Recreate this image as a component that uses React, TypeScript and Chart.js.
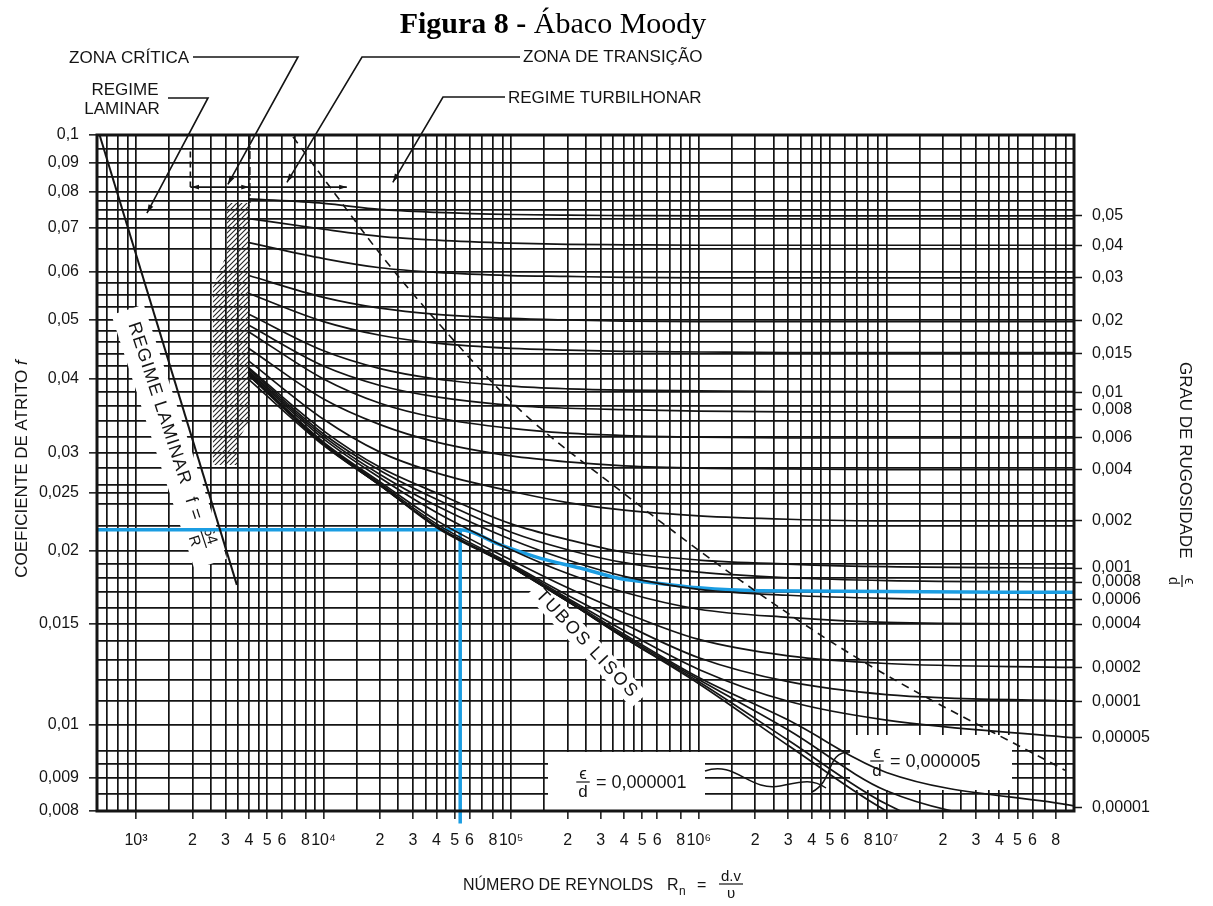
import React, { useEffect, useRef } from 'react';
import { Chart, registerables, LogarithmicScale } from 'chart.js';

// ---------------- data ----------------
const RE = [4e3, 1e4, 2e4, 4e4, 1e5, 2e5, 4e5, 1e6, 3e6, 1e7, 1e8];
const RE_HIGH = [1e5, 2e5, 4e5, 1e6, 3e6, 1e7, 1e8];

const F_0_05 = [0.078, 0.0767, 0.075, 0.0742, 0.0736, 0.0734, 0.0733, 0.0732, 0.0732, 0.0732, 0.0732];
const F_0_04 = [0.0725, 0.0697, 0.068, 0.0671, 0.0664, 0.0661, 0.066, 0.0659, 0.0659, 0.0659, 0.0659];
const F_0_03 = [0.0665, 0.0629, 0.0609, 0.0599, 0.0592, 0.059, 0.0588, 0.0587, 0.0587, 0.0587, 0.0587];
const F_0_02 = [0.0592, 0.0545, 0.0523, 0.0511, 0.0503, 0.05, 0.0498, 0.0497, 0.0497, 0.0497, 0.0497];
const F_0_015 = [0.0553, 0.0497, 0.0472, 0.0458, 0.0449, 0.0446, 0.0444, 0.0443, 0.0442, 0.0442, 0.0442];
const F_0_01 = [0.0511, 0.0445, 0.0416, 0.04, 0.0389, 0.0385, 0.0383, 0.0382, 0.0381, 0.0381, 0.0381];
const F_0_008 = [0.049, 0.042, 0.039, 0.0373, 0.0361, 0.0357, 0.0355, 0.0353, 0.0352, 0.0352, 0.0352];
const F_0_006 = [0.0478, 0.04, 0.0364, 0.0344, 0.033, 0.0324, 0.0321, 0.0319, 0.0318, 0.0318, 0.0318];
const F_0_004 = [0.0449, 0.037, 0.0335, 0.0313, 0.0296, 0.0288, 0.0283, 0.028, 0.0279, 0.0278, 0.0278];
const F_0_002 = [0.0428, 0.0342, 0.0301, 0.0274, 0.0252, 0.0241, 0.0234, 0.0229, 0.0226, 0.02245, 0.02245];
const F_0_001 = [0.0417, 0.0327, 0.0281, 0.025, 0.0222, 0.0209, 0.0199, 0.0193, 0.019, 0.0188, 0.0187];
const F_0_0008 = [0.0415, 0.0323, 0.0277, 0.0244, 0.0215, 0.0201, 0.0191, 0.0184, 0.018, 0.0178, 0.0177];
const F_0_0006 = [0.0412, 0.032, 0.0272, 0.0238, 0.0209, 0.0193, 0.0181, 0.0172, 0.0168, 0.0166, 0.0165];
const F_0_0004 = [0.041, 0.0317, 0.0268, 0.0232, 0.0201, 0.0183, 0.017, 0.0159, 0.0154, 0.0151, 0.015];
const F_0_0002 = [0.0408, 0.0313, 0.0263, 0.0225, 0.0193, 0.0173, 0.0157, 0.0141, 0.0132, 0.0128, 0.0126];
const F_0_0001 = [0.0407, 0.0312, 0.0261, 0.0222, 0.019, 0.0168, 0.015, 0.0131, 0.0119, 0.0113, 0.011];
const F_0_00005 = [0.0406, 0.0311, 0.0259, 0.022, 0.0189, 0.0166, 0.0146, 0.0125, 0.011, 0.0102, 0.00975];
const F_0_00001 = [0.0405, 0.031, 0.0259, 0.022, 0.0188, 0.0165, 0.0144, 0.0121, 0.0102, 0.0091, 0.00815];
const F_0_000005 = [0.0188, 0.0164, 0.0143, 0.012, 0.0099, 0.0086, 0.0074];
const F_0_000001 = [0.0188, 0.0164, 0.0142, 0.0119, 0.0097, 0.0082, 0.0064];
const F_SMOOTH = [0.0399, 0.0309, 0.0259, 0.0219, 0.0188, 0.0164, 0.0142, 0.0118, 0.0096, 0.008, 0.0059];

const LAMINAR_RE = [640, 3450];
const LAMINAR_F = [0.1, 0.0175];

const TURB_LIMIT_RE = [6870, 10800, 20700, 41700, 111000, 380000, 1.66e6, 7.23e6, 8.95e7];
const TURB_LIMIT_F = [0.0993, 0.0817, 0.0632, 0.0491, 0.0355, 0.0253, 0.01783, 0.013, 0.00914];

const BLUE_RE = [620, 5.35e4, 8.7e4, 1.42e5, 2.33e5, 3.8e5, 6.2e5, 1e6, 2.1e6, 1e8];
const BLUE_F = [0.0217, 0.0217, 0.0205, 0.01945, 0.0187, 0.01795, 0.0176, 0.0173, 0.0171, 0.017];
const BLUE_V_RE = [5.35e4, 5.35e4];
const BLUE_V_F = [0.0217, 0.00765];

const CRIT_LEFT_RE = [1950, 1950];
const CRIT_LEFT_F = [0.094, 0.0816];
const CRIT_RIGHT_RE = [4050, 4050];
const CRIT_RIGHT_F = [0.1, 0.0768];
const ZONE_H_RE = [1950, 13300];
const ZONE_H_F = [0.0816, 0.0816];

const CRIT_ZONE_RE = [3055, 4053, 4053, 3498, 3498, 2573, 2573, 3055];
const CRIT_ZONE_F = [0.0768, 0.0768, 0.0341, 0.0315, 0.0284, 0.0284, 0.0567, 0.0641];

// axes
const X_MIN = 620;
const X_MAX = 1e8;
const Y_MIN = 0.008;
const Y_MAX = 0.1;
const X_GRID_MULT = [1, 1.5, 2, 2.5, 3, 3.5, 4, 4.5, 5, 6, 7, 8, 9];
const X_GRID_DECADES = [1e3, 1e4, 1e5, 1e6, 1e7];
const X_GRID_EXTRA = [700, 800, 900, 1e8];
const X_TICK_VALUES = [1e3, 2e3, 3e3, 4e3, 5e3, 6e3, 8e3, 1e4, 2e4, 3e4, 4e4, 5e4, 6e4, 8e4, 1e5, 2e5, 3e5, 4e5, 5e5, 6e5, 8e5, 1e6, 2e6, 3e6, 4e6, 5e6, 6e6, 8e6, 1e7, 2e7, 3e7, 4e7, 5e7, 6e7, 8e7];
const X_TICK_TEXT = ['10³', '2', '3', '4', '5', '6', '8', '10⁴', '2', '3', '4', '5', '6', '8', '10⁵', '2', '3', '4', '5', '6', '8', '10⁶', '2', '3', '4', '5', '6', '8', '10⁷', '2', '3', '4', '5', '6', '8'];

const Y_GRID = [0.1, 0.095, 0.09, 0.085, 0.08, 0.0775, 0.075, 0.0725, 0.07, 0.065, 0.06, 0.0575, 0.055, 0.0525, 0.05, 0.048, 0.046, 0.044, 0.042, 0.04, 0.038, 0.036, 0.034, 0.032, 0.03, 0.028, 0.026, 0.025, 0.024, 0.022, 0.02, 0.019, 0.018, 0.017, 0.016, 0.015, 0.014, 0.013, 0.012, 0.011, 0.01, 0.0095, 0.00925, 0.009, 0.0085, 0.008];
const Y_TICK_VALUES = [0.1, 0.09, 0.08, 0.07, 0.06, 0.05, 0.04, 0.03, 0.025, 0.02, 0.015, 0.01, 0.009, 0.008];
const Y_TICK_TEXT = ['0,1', '0,09', '0,08', '0,07', '0,06', '0,05', '0,04', '0,03', '0,025', '0,02', '0,015', '0,01', '0,009', '0,008'];
// printed axis calibration of the scanned chart: value -> fraction of plot height from bottom
const Y_CAL_VALUES = [0.008, 0.009, 0.01, 0.015, 0.02, 0.025, 0.03, 0.04, 0.05, 0.06, 0.07, 0.08, 0.09, 0.1];
const Y_CAL_FRACTION = [0, 0.0488, 0.1272, 0.2766, 0.3846, 0.4704, 0.5296, 0.6391, 0.7263, 0.7973, 0.8624, 0.9157, 0.9586, 1];

const ROUGH_TICK_F = [0.0732, 0.0659, 0.0587, 0.0499, 0.0441, 0.038, 0.0355, 0.0318, 0.0278, 0.02245, 0.0187, 0.0177, 0.0165, 0.015, 0.0126, 0.01097, 0.00975, 0.00809];
const ROUGH_TICK_TEXT = ['0,05', '0,04', '0,03', '0,02', '0,015', '0,01', '0,008', '0,006', '0,004', '0,002', '0,001', '0,0008', '0,0006', '0,0004', '0,0002', '0,0001', '0,00005', '0,00001'];

const CURVES = [
  { re: RE, f: F_0_05 }, { re: RE, f: F_0_04 }, { re: RE, f: F_0_03 }, { re: RE, f: F_0_02 },
  { re: RE, f: F_0_015 }, { re: RE, f: F_0_01 }, { re: RE, f: F_0_008 }, { re: RE, f: F_0_006 },
  { re: RE, f: F_0_004 }, { re: RE, f: F_0_002 }, { re: RE, f: F_0_001 }, { re: RE, f: F_0_0008 },
  { re: RE, f: F_0_0006 }, { re: RE, f: F_0_0004 }, { re: RE, f: F_0_0002 }, { re: RE, f: F_0_0001 },
  { re: RE, f: F_0_00005 }, { re: RE, f: F_0_00001 }, { re: RE_HIGH, f: F_0_000005 },
  { re: RE_HIGH, f: F_0_000001 }, { re: RE, f: F_SMOOTH },
];

// ---------------- styling ----------------
const INK = '#141414';
const BLUE = '#1b9de2';
const SANS = "'Liberation Sans', Arial, Helvetica, sans-serif";
const SERIF = "'Liberation Serif', 'Times New Roman', serif";

// ---------------- custom scale with the printed calibration ----------------
const LOG_CAL = Y_CAL_VALUES.map((v) => Math.log10(v));
function warp(v: number) {
  const lv = Math.log10(Math.max(v, 1e-12));
  const n = LOG_CAL.length;
  let i = 0;
  while (i < n - 2 && lv > LOG_CAL[i + 1]) i++;
  const t = (lv - LOG_CAL[i]) / (LOG_CAL[i + 1] - LOG_CAL[i]);
  return Y_CAL_FRACTION[i] + t * (Y_CAL_FRACTION[i + 1] - Y_CAL_FRACTION[i]);
}
function unwarp(d: number) {
  const n = Y_CAL_FRACTION.length;
  let i = 0;
  while (i < n - 2 && d > Y_CAL_FRACTION[i + 1]) i++;
  const t = (d - Y_CAL_FRACTION[i]) / (Y_CAL_FRACTION[i + 1] - Y_CAL_FRACTION[i]);
  return Math.pow(10, LOG_CAL[i] + t * (LOG_CAL[i + 1] - LOG_CAL[i]));
}

class WarpLogScale extends LogarithmicScale {
  static id = 'warpLog';
  getPixelForValue(value: number) {
    if (value === undefined || value === null || isNaN(value)) return NaN;
    return this.getPixelForDecimal(warp(value));
  }
  getValueForPixel(pixel: number) {
    return unwarp(this.getDecimalForPixel(pixel));
  }
}

Chart.register(...registerables, WarpLogScale);

const same = (a: number, b: number) => Math.abs(a - b) / Math.abs(b) < 1e-6;
const X_GRID: number[] = [];
X_GRID_DECADES.forEach((d) => X_GRID_MULT.forEach((m) => X_GRID.push(m * d)));
X_GRID.push(...X_GRID_EXTRA);

// ---------------- drawing helpers ----------------
function arrowHead(ctx: CanvasRenderingContext2D, x1: number, y1: number, x2: number, y2: number, size = 9) {
  const a = Math.atan2(y2 - y1, x2 - x1);
  ctx.beginPath();
  ctx.moveTo(x2, y2);
  ctx.lineTo(x2 - size * Math.cos(a - 0.3), y2 - size * Math.sin(a - 0.3));
  ctx.lineTo(x2 - size * Math.cos(a + 0.3), y2 - size * Math.sin(a + 0.3));
  ctx.closePath();
  ctx.fill();
}

function fraction(ctx: CanvasRenderingContext2D, num: string, den: string, cx: number, barY: number, size: number) {
  ctx.save();
  ctx.font = `${size}px ${SANS}`;
  ctx.textAlign = 'center';
  const w = Math.max(ctx.measureText(num).width, ctx.measureText(den).width) + 4;
  ctx.textBaseline = 'alphabetic';
  ctx.fillText(num, cx, barY - 3);
  ctx.textBaseline = 'top';
  ctx.fillText(den, cx, barY + 2);
  ctx.lineWidth = 1.2;
  ctx.beginPath();
  ctx.moveTo(cx - w / 2, barY);
  ctx.lineTo(cx + w / 2, barY);
  ctx.stroke();
  ctx.restore();
  return w;
}

const LEADERS = [
  { path: [[193, 57], [298, 57]], re: 3090, f: 0.0825 },
  { path: [[168, 98], [208, 98]], re: 1144, f: 0.074 },
  { path: [[520, 57], [362, 57]], re: 6380, f: 0.0832 },
  { path: [[505, 97], [443, 97]], re: 23400, f: 0.0832 },
];

const decor = {
  id: 'decor',
  beforeDatasetsDraw(chart: any) {
    const { ctx } = chart;
    const X = (v: number) => chart.scales.x.getPixelForValue(v);
    const Y = (v: number) => chart.scales.y.getPixelForValue(v);
    // hatched critical zone
    ctx.save();
    ctx.beginPath();
    CRIT_ZONE_RE.forEach((r, i) => {
      const px = X(r), py = Y(CRIT_ZONE_F[i]);
      if (i) ctx.lineTo(px, py); else ctx.moveTo(px, py);
    });
    ctx.closePath();
    ctx.clip();
    ctx.strokeStyle = '#222';
    ctx.lineWidth = 1.1;
    for (let k = -300; k < 300; k += 5) {
      ctx.beginPath();
      ctx.moveTo(230 + k, 480);
      ctx.lineTo(230 + k + 300, 180);
      ctx.stroke();
    }
    ctx.restore();

    // REGIME LAMINAR label (white band left of the laminar line)
    ctx.save();
    ctx.translate(172, 436);
    ctx.rotate((71.9 * Math.PI) / 180);
    ctx.font = `18px ${SANS}`;
    (ctx as any).letterSpacing = '1px';
    const t1 = 'REGIME LAMINAR';
    const t2 = 'f =';
    const w1 = ctx.measureText(t1).width;
    const w2 = ctx.measureText(t2).width;
    const total = w1 + 14 + w2 + 8 + 24;
    ctx.fillStyle = '#fff';
    ctx.fillRect(-total / 2 - 14, -14, total + 28, 34);
    ctx.fillStyle = INK;
    ctx.strokeStyle = INK;
    ctx.textBaseline = 'middle';
    ctx.textAlign = 'left';
    let x0 = -total / 2;
    ctx.fillText(t1, x0, 2);
    x0 += w1 + 14;
    ctx.fillText(t2, x0, 2);
    x0 += w2 + 8;
    (ctx as any).letterSpacing = '0px';
    fraction(ctx, '64', 'R', x0 + 11, 2, 15);
    ctx.restore();

    // TUBOS LISOS
    ctx.save();
    ctx.translate(587, 644);
    ctx.rotate((47 * Math.PI) / 180);
    ctx.font = `18px ${SANS}`;
    (ctx as any).letterSpacing = '2px';
    const tw = ctx.measureText('TUBOS LISOS').width;
    ctx.fillStyle = '#fff';
    ctx.fillRect(-tw / 2 - 6, -11, tw + 12, 22);
    ctx.fillStyle = INK;
    ctx.textAlign = 'center';
    ctx.textBaseline = 'middle';
    ctx.fillText('TUBOS LISOS', 0, 0);
    ctx.restore();

    // epsilon/d boxes
    const boxes = [
      { x: 548, y: 752, w: 157, h: 59, fx: 583, my: 782, txt: '= 0,000001' },
      { x: 850, y: 735, w: 162, h: 55, fx: 877, my: 761, txt: '= 0,000005' },
    ];
    boxes.forEach((b) => {
      ctx.save();
      ctx.fillStyle = '#fff';
      ctx.fillRect(b.x, b.y, b.w, b.h);
      ctx.fillStyle = INK;
      ctx.strokeStyle = INK;
      fraction(ctx, 'ϵ', 'd', b.fx, b.my, 17);
      ctx.font = `18px ${SANS}`;
      ctx.textAlign = 'left';
      ctx.textBaseline = 'middle';
      ctx.fillText(b.txt, b.fx + 13, b.my + 1);
      ctx.restore();
    });
  },
  afterDraw(chart: any) {
    const { ctx, chartArea: a } = chart;
    const X = (v: number) => chart.scales.x.getPixelForValue(v);
    const Y = (v: number) => chart.scales.y.getPixelForValue(v);
    ctx.save();
    // frame
    ctx.strokeStyle = INK;
    ctx.lineWidth = 3;
    ctx.strokeRect(a.left, a.top, a.right - a.left, a.bottom - a.top);

    // curly connectors near the epsilon/d labels
    ctx.lineWidth = 1.5;
    ctx.beginPath();
    ctx.moveTo(705, 771);
    ctx.bezierCurveTo(735, 760, 750, 792, 780, 786);
    ctx.bezierCurveTo(800, 782, 812, 778, 826, 788);
    ctx.stroke();
    ctx.beginPath();
    ctx.moveTo(850, 752);
    ctx.bezierCurveTo(825, 752, 835, 780, 812, 792);
    ctx.stroke();

    // title
    ctx.fillStyle = '#000';
    ctx.textBaseline = 'alphabetic';
    ctx.font = `bold 30px ${SERIF}`;
    const tb = ctx.measureText('Figura 8 - ').width;
    ctx.font = `30px ${SERIF}`;
    const tr = ctx.measureText('Ábaco Moody').width;
    const tx = 553 - (tb + tr) / 2;
    ctx.font = `bold 30px ${SERIF}`;
    ctx.textAlign = 'left';
    ctx.fillText('Figura 8 - ', tx, 33);
    ctx.font = `30px ${SERIF}`;
    ctx.fillText('Ábaco Moody', tx + tb, 33);

    // annotation texts
    ctx.fillStyle = INK;
    ctx.font = `17px ${SANS}`;
    ctx.textBaseline = 'middle';
    ctx.textAlign = 'right';
    ctx.fillText('ZONA CRÍTICA', 189, 58);
    ctx.textAlign = 'center';
    ctx.fillText('REGIME', 125, 90);
    ctx.fillText('LAMINAR', 122, 109);
    ctx.textAlign = 'left';
    ctx.fillText('ZONA DE TRANSIÇÃO', 523, 57);
    ctx.fillText('REGIME TURBILHONAR', 508, 98);

    // leaders
    ctx.strokeStyle = INK;
    ctx.lineWidth = 1.6;
    LEADERS.forEach((l) => {
      const tx2 = X(l.re), ty2 = Y(l.f);
      ctx.beginPath();
      ctx.moveTo(l.path[0][0], l.path[0][1]);
      ctx.lineTo(l.path[1][0], l.path[1][1]);
      ctx.lineTo(tx2, ty2);
      ctx.stroke();
      arrowHead(ctx, l.path[1][0], l.path[1][1], tx2, ty2, 9);
    });

    // zone arrows
    const yz = Y(ZONE_H_F[0]);
    arrowHead(ctx, X(3000), yz, X(CRIT_LEFT_RE[0]) + 1, yz, 8);
    arrowHead(ctx, X(2500), yz, X(CRIT_RIGHT_RE[0]) - 1, yz, 8);
    arrowHead(ctx, X(8000), yz, X(ZONE_H_RE[1]), yz, 8);

    // axis titles
    ctx.save();
    ctx.translate(22, 469);
    ctx.rotate(-Math.PI / 2);
    ctx.font = `17px ${SANS}`;
    const lt = 'COEFICIENTE DE ATRITO ';
    const lw = ctx.measureText(lt).width;
    ctx.font = `italic 17px ${SANS}`;
    const fw = ctx.measureText('f').width;
    ctx.textAlign = 'left';
    ctx.font = `17px ${SANS}`;
    ctx.fillText(lt, -(lw + fw) / 2, 0);
    ctx.font = `italic 17px ${SANS}`;
    ctx.fillText('f', -(lw + fw) / 2 + lw, 0);
    ctx.restore();

    ctx.save();
    ctx.translate(1185, 362);
    ctx.rotate(Math.PI / 2);
    ctx.font = `17px ${SANS}`;
    ctx.textAlign = 'left';
    ctx.textBaseline = 'middle';
    ctx.fillText('GRAU DE RUGOSIDADE', 0, 0);
    ctx.restore();
    ctx.save();
    ctx.translate(1185, 581);
    ctx.rotate(Math.PI / 2);
    ctx.strokeStyle = INK;
    fraction(ctx, 'ϵ', 'd', 0, 3, 14);
    ctx.restore();

    ctx.font = `16px ${SANS}`;
    ctx.textAlign = 'left';
    ctx.textBaseline = 'alphabetic';
    ctx.fillText('NÚMERO DE REYNOLDS', 463, 890);
    ctx.fillText('R', 667, 890);
    ctx.font = `12px ${SANS}`;
    ctx.fillText('n', 679, 895);
    ctx.font = `16px ${SANS}`;
    ctx.fillText('=', 697, 890);
    ctx.strokeStyle = INK;
    fraction(ctx, 'd.v', 'υ', 731, 884, 15);
    ctx.restore();
  },
};

// ---------------- chart ----------------
function series(re: number[], f: number[]) {
  return re.map((x, i) => ({ x, y: f[i] }));
}

function buildConfig(): any {
  const line = { showLine: true, pointRadius: 0, fill: false, yAxisID: 'y', xAxisID: 'x' };
  const datasets: any[] = CURVES.map((c) => ({
    ...line, data: series(c.re, c.f), borderColor: INK, borderWidth: 1.7, cubicInterpolationMode: 'monotone',
  }));
  datasets.push({ ...line, data: series(LAMINAR_RE, LAMINAR_F), borderColor: INK, borderWidth: 2 });
  datasets.push({ ...line, data: series(TURB_LIMIT_RE, TURB_LIMIT_F), borderColor: INK, borderWidth: 1.6, borderDash: [8, 6], cubicInterpolationMode: 'monotone' });
  datasets.push({ ...line, data: series(CRIT_LEFT_RE, CRIT_LEFT_F), borderColor: INK, borderWidth: 1.6, borderDash: [6, 4], clip: false });
  datasets.push({ ...line, data: series(CRIT_RIGHT_RE, CRIT_RIGHT_F), borderColor: INK, borderWidth: 1.4, borderDash: [8, 3, 2, 3] });
  datasets.push({ ...line, data: series(ZONE_H_RE, ZONE_H_F), borderColor: INK, borderWidth: 1.6 });
  datasets.push({ ...line, data: series(BLUE_RE, BLUE_F), borderColor: BLUE, borderWidth: 3.5, cubicInterpolationMode: 'monotone' });
  datasets.push({ ...line, data: series(BLUE_V_RE, BLUE_V_F), borderColor: BLUE, borderWidth: 3.5, clip: false });

  const tickFont = { family: SANS, size: 16 };
  return {
    type: 'scatter',
    data: { datasets },
    plugins: [decor],
    options: {
      responsive: false,
      animation: false,
      devicePixelRatio: 1,
      events: [],
      layout: { padding: { top: 135, left: 0, right: 0, bottom: 0 } },
      plugins: { legend: { display: false }, tooltip: { enabled: false }, title: { display: false } },
      scales: {
        x: {
          type: 'logarithmic', min: X_MIN, max: X_MAX, position: 'bottom',
          afterFit: (s: any) => { s.height = 95; },
          afterBuildTicks: (s: any) => { s.ticks = X_GRID.map((v) => ({ value: v })); },
          ticks: {
            autoSkip: false, maxRotation: 0, minRotation: 0, padding: 12, color: INK, font: tickFont,
            callback: (v: number) => { const i = X_TICK_VALUES.findIndex((t) => same(v, t)); return i >= 0 ? X_TICK_TEXT[i] : ''; },
          },
          grid: {
            color: INK, lineWidth: 1.7, tickLength: 8, tickWidth: 1.5,
            tickColor: (c: any) => (c.tick && X_TICK_VALUES.some((t) => same(c.tick.value, t)) ? INK : 'rgba(0,0,0,0)'),
          },
          border: { display: false },
        },
        y: {
          type: 'warpLog', min: Y_MIN, max: Y_MAX, position: 'left',
          afterFit: (s: any) => { s.width = 97; },
          afterBuildTicks: (s: any) => { s.ticks = Y_GRID.map((v) => ({ value: v })); },
          ticks: {
            autoSkip: false, padding: 10, color: INK, font: tickFont,
            callback: (v: number) => { const i = Y_TICK_VALUES.findIndex((t) => same(v, t)); return i >= 0 ? Y_TICK_TEXT[i] : ''; },
          },
          grid: {
            color: INK, lineWidth: 1.7, tickLength: 8, tickWidth: 1.5,
            tickColor: (c: any) => (c.tick && Y_TICK_VALUES.some((t) => same(c.tick.value, t)) ? INK : 'rgba(0,0,0,0)'),
          },
          border: { display: false },
        },
        yR: {
          type: 'warpLog', min: Y_MIN, max: Y_MAX, position: 'right',
          afterFit: (s: any) => { s.width = 139; },
          afterBuildTicks: (s: any) => { s.ticks = ROUGH_TICK_F.map((v) => ({ value: v })); },
          ticks: {
            autoSkip: false, padding: 10, color: INK, font: tickFont,
            callback: (_v: number, i: number) => ROUGH_TICK_TEXT[i],
          },
          grid: { drawOnChartArea: false, color: INK, tickLength: 8, tickWidth: 1.5 },
          border: { display: false },
        },
      },
    },
  };
}

export default function App() {
  const ref = useRef<HTMLCanvasElement>(null);
  useEffect(() => {
    const chart = new Chart(ref.current as HTMLCanvasElement, buildConfig());
    return () => chart.destroy();
  }, []);
  return (
    <div style={{ position: 'absolute', left: 0, top: 0, width: 1213, height: 906, background: '#fff' }}>
      <canvas ref={ref} width={1213} height={906} style={{ display: 'block' }} />
    </div>
  );
}
